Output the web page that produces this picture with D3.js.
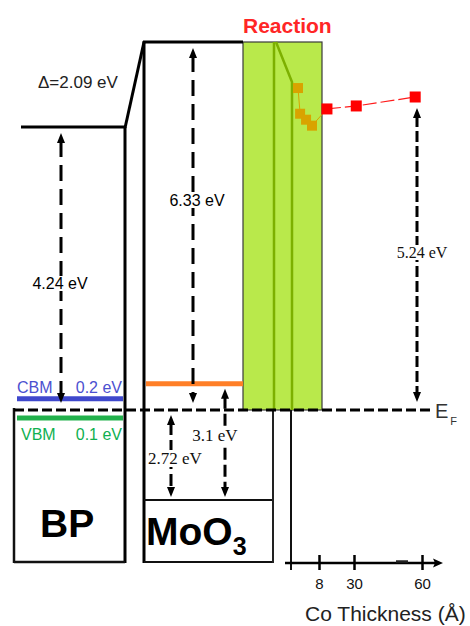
<!DOCTYPE html>
<html>
<head>
<meta charset="utf-8">
<script src="https://cdn.jsdelivr.net/npm/d3@7"></script>
<style>
  body { margin: 0; background: #fff; }
  svg { display: block; }
</style>
</head>
<body>
<svg id="chart" width="470" height="626"></svg>
<script>
// ---- Band alignment (eV, relative to the Fermi level E_F) ----
const vacuumLevels = [4.24, 6.33];        // BP, MoO3 vacuum level above E_F
const interfaceDipole = 2.09;             // step between the two vacuum levels
const bpBandEdges = [0.2, -0.1];          // BP CBM, VBM
const moo3VBM = -2.72;
const moo3Gap = 3.1;
const moo3CBM = moo3VBM + moo3Gap;        // 0.38 eV above E_F

// ---- Co overlayer: vacuum level above E_F vs. deposited thickness ----
const coThicknessReaction = [2.0, 2.6, 4.3, 6.0];   // Å
const coLevelReaction     = [5.39, 4.96, 4.86, 4.76];
const coThicknessFilm     = [13, 31, 57];           // Å
const coLevelFilm         = [5.04, 5.09, 5.24];
const thicknessTicks      = [8, 30, 60];

const svg = d3.select("#chart");
const SANS = "'Liberation Sans', Arial, sans-serif";
const SERIF = "'Liberation Serif', 'Times New Roman', serif";

// Schematic energy axis (piecewise, not to scale)
const yE = d3.scaleLinear()
  .domain([moo3VBM, bpBandEdges[1], 0, vacuumLevels[0], vacuumLevels[1]])
  .range([500, 418, 410, 127, 42]);

// Co vacuum level scale and thickness scale (broken axis)
const yWF = d3.scaleLinear().domain([0, 5.24]).range([yE(0), 97]);
const xT = d3.scaleLinear().domain([0, 8, 30, 60]).range([291, 319, 354, 422]);

// Column layout
const col = {
  bpL: 14, bpR: 125, vacL: 21,
  moL: 144, moR: 273,
  rxL: 243, rxR: 322, rxMid: 274,
  floor: 562, efEnd: 430
};
const yEF = yE(0);

function line(x1, y1, x2, y2, w, color, dash) {
  const l = svg.append("line")
    .attr("x1", x1).attr("y1", y1).attr("x2", x2).attr("y2", y2)
    .attr("stroke", color || "#000").attr("stroke-width", w);
  if (dash) l.attr("stroke-dasharray", dash);
  return l;
}

// ---- Reaction zone (Co on MoO3) ----
svg.append("rect")
  .attr("x", col.rxL).attr("y", yE(vacuumLevels[1]))
  .attr("width", col.rxR - col.rxL).attr("height", yEF - yE(vacuumLevels[1]))
  .attr("fill", "#b9e94b").attr("stroke", "#3a3a3a").attr("stroke-width", 1.2);
const rxKnee = yWF(coLevelReaction[0]) - 6;
line(col.rxMid, yE(vacuumLevels[1]), col.rxMid, yEF, 2.5, "#7db000");
svg.append("path")
  .attr("d", `M${col.rxMid + 2},${yE(vacuumLevels[1])} L${xT(0) + 1},${rxKnee} L${xT(0) + 1},${yEF}`)
  .attr("fill", "none").attr("stroke", "#7db000").attr("stroke-width", 2.5);

// ---- Vacuum levels ----
line(col.vacL, yE(vacuumLevels[0]), col.bpR + 1, yE(vacuumLevels[0]), 3);
line(col.bpR, yE(vacuumLevels[0]) + 1, col.moL, yE(vacuumLevels[1]), 3);
line(col.moL - 1, yE(vacuumLevels[1]), col.rxL, yE(vacuumLevels[1]), 3);

// ---- BP block ----
line(col.bpR, yE(vacuumLevels[0]), col.bpR, col.floor + 1, 3);
line(col.bpL, yEF - 2, col.bpL, col.floor + 1, 2.5, "#111");
line(col.bpL, col.floor, col.bpR, col.floor, 2.5, "#111");

// ---- MoO3 block ----
line(col.moL, yE(vacuumLevels[1]) - 1, col.moL, col.floor + 1, 3);
line(col.moL, yE(moo3VBM), col.moR, yE(moo3VBM), 2, "#111");
line(col.moL, col.floor, col.moR, col.floor, 2, "#111");
line(col.moR, yEF, col.moR, col.floor + 1, 2, "#222");
line(xT(0), yEF, xT(0), 570, 2, "#111");

// ---- Band edges ----
line(17, yE(bpBandEdges[0]) + 2, 123, yE(bpBandEdges[0]) + 2, 5, "#3f48cc");
line(17, yE(bpBandEdges[1]), 123, yE(bpBandEdges[1]), 5, "#22b14c");
line(col.moL + 2, yE(moo3CBM) - 1, col.rxL, yE(moo3CBM) - 1, 5, "#ff7f27");

// ---- Fermi level ----
line(col.bpL, yEF, col.efEnd, yEF, 3, "#000", "10,4");

// ---- Double-headed dashed arrows ----
function head(x, yTip, dir) {       // dir: -1 points up, +1 points down
  const b = yTip - dir * 10;
  svg.append("path")
    .attr("d", `M${x},${yTip} L${x - 4},${b} L${x + 4},${b} Z`)
    .attr("fill", "#000");
}
function arrow(x, yTop, yBot, dash) {
  line(x, yTop + 8, x, yBot - 8, 3, "#000", dash);
  head(x, yTop, -1);
  head(x, yBot, 1);
}
arrow(61, yE(vacuumLevels[0]) + 6, yEF - 7, "16,8");
arrow(193, yE(vacuumLevels[1]) + 6, yEF - 7, "16,8");
arrow(417, yWF(coLevelFilm[2]) + 11, yEF - 8, "11,4");
arrow(171, yEF + 5, yE(moo3VBM) - 3, "12,5");
arrow(225, yE(moo3CBM) + 4, yE(moo3VBM) - 3, "12,5");

// ---- Text helpers ----
function text(str, x, y, size, opts = {}) {
  const t = svg.append("text")
    .attr("x", x).attr("y", y)
    .attr("font-family", opts.family || SANS)
    .attr("font-size", size)
    .attr("font-weight", opts.weight || "normal")
    .attr("fill", opts.color || "#000")
    .attr("text-anchor", opts.anchor || "start")
    .text(str);
  if (opts.bg) {
    const bb = t.node().getBBox();
    svg.insert("rect", () => t.node())
      .attr("x", bb.x - 1).attr("y", bb.y + 1)
      .attr("width", bb.width + 2).attr("height", bb.height - 2)
      .attr("fill", "#fff");
  }
  return t;
}

// Arrow labels
text(`${vacuumLevels[0]} eV`, 60, 289, 16, { anchor: "middle", bg: true });
text(`${vacuumLevels[1]} eV`, 197, 206, 16, { anchor: "middle", bg: true });
text(`${coLevelFilm[2]} eV`, 422, 258, 16, { anchor: "middle", family: SERIF, color: "#111", bg: true });
text(`${moo3Gap} eV`, 215, 441, 17, { anchor: "middle", family: SERIF, color: "#111", bg: true });
text(`${Math.abs(moo3VBM)} eV`, 175, 464, 17, { anchor: "middle", family: SERIF, color: "#111", bg: true });
text(`\u0394=${interfaceDipole} eV`, 38, 88, 17, { color: "#222" });

// Band edge labels
text("CBM", 17, 393, 16, { color: "#4b50d0" });
text(`${bpBandEdges[0]} eV`, 122, 393, 16, { color: "#4b50d0", anchor: "end" });
text("VBM", 21, 440, 16, { color: "#10b050" });
text(`${Math.abs(bpBandEdges[1])} eV`, 122, 440, 16, { color: "#10b050", anchor: "end" });

// Material labels
text("BP", 40, 537, 39, { weight: "bold" });
const mo = text("MoO", 146, 545, 39, { weight: "bold" });
mo.append("tspan").attr("font-size", 25).attr("dy", 10).text("3");

text("Reaction", 243, 33, 21, { weight: "bold", color: "#ff2626" });

const ef = text("E", 435, 418, 20, { color: "#333" });
ef.append("tspan").attr("font-size", 11).attr("dy", 7).attr("dx", 2).text("F");

// ---- Co thickness axis ----
const axisY = 563;
const axis = d3.axisBottom(xT).tickValues(thicknessTicks).tickSize(7).tickPadding(8);
const gAxis = svg.append("g").attr("transform", `translate(0,${axisY})`).call(axis);
gAxis.select(".domain").remove();
gAxis.selectAll(".tick line").attr("y1", -8).attr("y2", 7)
  .attr("stroke", "#000").attr("stroke-width", 2.5);
gAxis.selectAll(".tick text").attr("font-family", SANS).attr("font-size", 15)
  .attr("fill", "#111");
line(285, axisY, 437, axisY, 2.5, "#000");
line(396, axisY - 1.5, 408, axisY - 1.5, 2.5, "#222");
svg.append("path")
  .attr("d", `M${443},${axisY} L${433},${axisY - 4.5} L${435},${axisY} L${433},${axisY + 4.5} Z`)
  .attr("fill", "#000");
text("Co Thickness (\u00c5)", 305, 621, 21, { color: "#222" });

// ---- Co data ----
const reactionPts = coThicknessReaction.map((t, i) => [xT(t), yWF(coLevelReaction[i])]);
const filmPts = coThicknessFilm.map((t, i) => [xT(t), yWF(coLevelFilm[i])]);

svg.append("path")
  .attr("d", d3.line()([...reactionPts, filmPts[0]]))
  .attr("fill", "none").attr("stroke", "#d9a300").attr("stroke-width", 1);
svg.append("path")
  .attr("d", d3.line()(filmPts))
  .attr("fill", "none").attr("stroke", "#ff1a1a").attr("stroke-width", 1.2)
  .attr("stroke-dasharray", "14,4");

svg.selectAll("rect.rx").data(reactionPts).join("rect").attr("class", "rx")
  .attr("x", d => d[0] - 5).attr("y", d => d[1] - 5)
  .attr("width", 10).attr("height", 10).attr("fill", "#d9a300");
svg.selectAll("rect.film").data(filmPts).join("rect").attr("class", "film")
  .attr("x", d => d[0] - 5.5).attr("y", d => d[1] - 5.5)
  .attr("width", 11).attr("height", 11).attr("fill", "#ff0000");
</script>
</body>
</html>
